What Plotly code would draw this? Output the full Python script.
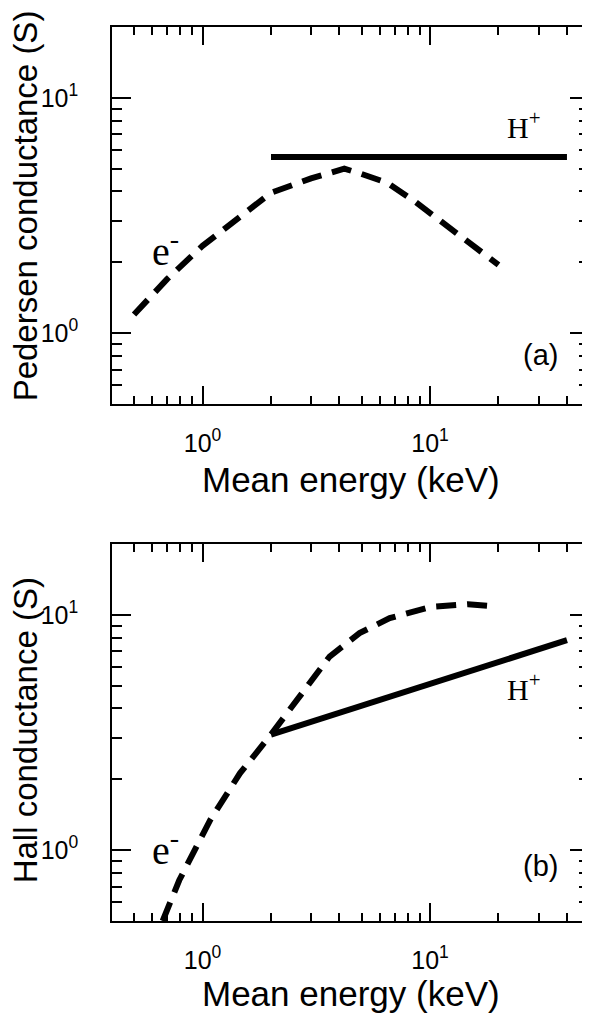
import numpy as np
import plotly.graph_objects as go

# ---- data ----
energy_e_a = [0.5, 0.7, 1.0, 1.4, 2.0, 3.0, 4.2, 5.0, 6.5, 8.5, 12, 15, 20]
pedersen_e = [1.2, 1.7, 2.35, 3.05, 3.95, 4.55, 5.0, 4.75, 4.35, 3.65, 2.85, 2.4, 1.95]
energy_p_a = [2, 40]
pedersen_p = [5.6, 5.6]

energy_e_b = [0.668, 0.79, 1.08, 1.46, 2.0, 2.68, 3.62, 4.9, 6.65, 10.1, 14.7, 19.6]
hall_e = [0.5, 0.745, 1.34, 2.12, 3.1, 4.49, 6.65, 8.36, 9.68, 10.8, 11.1, 10.85]
energy_p_b = [2, 40]
hall_p = [3.1, 7.8]

major_vals = [1, 10]
major_text = ["10<sup>0</sup>", "10<sup>1</sup>"]
x_minor = [0.4, 0.5, 0.6, 0.7, 0.8, 0.9, 2, 3, 4, 5, 6, 7, 8, 9, 20, 30, 40, 50]
y_minor = [0.5, 0.6, 0.7, 0.8, 0.9, 2, 3, 4, 5, 6, 7, 8, 9, 20]

SANS = "Liberation Sans"
SERIF = "Liberation Serif"
DASH = "20px,11px"
LW = 6

W, H = 590, 1013
ML, MR, MT, MB = 104, 7, 19, 100
PH = H - MT - MB

fig = go.Figure()
fig.add_trace(go.Scatter(x=energy_e_a, y=pedersen_e, mode="lines",
                         line=dict(color="black", width=LW, dash=DASH),
                         xaxis="x", yaxis="y", showlegend=False))
fig.add_trace(go.Scatter(x=energy_p_a, y=pedersen_p, mode="lines",
                         line=dict(color="black", width=LW),
                         xaxis="x", yaxis="y", showlegend=False))
fig.add_trace(go.Scatter(x=energy_e_b, y=hall_e, mode="lines",
                         line=dict(color="black", width=LW, dash=DASH),
                         xaxis="x2", yaxis="y2", showlegend=False))
fig.add_trace(go.Scatter(x=energy_p_b, y=hall_p, mode="lines",
                         line=dict(color="black", width=LW),
                         xaxis="x2", yaxis="y2", showlegend=False))

def xax(anchor):
    return dict(type="log", range=[np.log10(0.4), np.log10(50)], anchor=anchor,
                showgrid=False, zeroline=False, showline=True, linecolor="black",
                linewidth=1.5, mirror="ticks", ticks="inside", ticklen=18,
                tickwidth=1.5, tickcolor="black", tickvals=major_vals,
                ticktext=major_text, ticklabelstandoff=16,
                tickfont=dict(family=SANS, size=25, color="black"),
                minor=dict(tickvals=x_minor, ticks="inside", ticklen=8,
                           tickwidth=1.5, tickcolor="black", showgrid=False))

def yax(anchor, domain):
    return dict(type="log", range=[np.log10(0.5), np.log10(20)], anchor=anchor,
                domain=domain, showgrid=False, zeroline=False, showline=True,
                linecolor="black", linewidth=1.5, mirror="ticks", ticks="inside",
                ticklen=19, tickwidth=1.5, tickcolor="black", tickvals=major_vals,
                ticktext=major_text, ticklabelstandoff=27,
                tickfont=dict(family=SANS, size=25, color="black"),
                minor=dict(tickvals=y_minor, ticks="inside", ticklen=10,
                           tickwidth=1.5, tickcolor="black", showgrid=False))

def py(screen_y):
    return (MT + PH - (screen_y - 8)) / PH

def px(screen_x):
    return (screen_x - 8 - ML) / (W - ML - MR)

def ann(x, y, text, xref, yref, font, size, xanchor):
    return dict(x=np.log10(x), y=np.log10(y), xref=xref, yref=yref, text=text,
                showarrow=False, xanchor=xanchor, yanchor="middle",
                font=dict(family=font, size=size, color="black"))

annotations = [
    ann(21.4, 7.7, "H<sup>+</sup>", "x", "y", SERIF, 30, "left"),
    ann(0.586, 2.3, "e<sup>-</sup>", "x", "y", SERIF, 40, "left"),
    ann(37.3, 0.806, "(a)", "x", "y", SANS, 29, "right"),
    ann(21.4, 4.95, "H<sup>+</sup>", "x2", "y2", SERIF, 30, "left"),
    ann(0.586, 1.03, "e<sup>-</sup>", "x2", "y2", SERIF, 40, "left"),
    ann(37.3, 0.857, "(b)", "x2", "y2", SANS, 29, "right"),
    dict(x=px(25), y=py(206), xref="paper", yref="paper", text="Pedersen conductance (S)",
         textangle=-90, showarrow=False, xanchor="center", yanchor="middle",
         font=dict(family=SANS, size=33, color="black")),
    dict(x=px(25), y=py(730), xref="paper", yref="paper", text="Hall conductance (S)",
         textangle=-90, showarrow=False, xanchor="center", yanchor="middle",
         font=dict(family=SANS, size=33, color="black")),
    dict(x=px(352), y=py(479), xref="paper", yref="paper", text="Mean energy (keV)",
         showarrow=False, xanchor="center", yanchor="middle",
         font=dict(family=SANS, size=35, color="black")),
    dict(x=px(352), y=py(994), xref="paper", yref="paper", text="Mean energy (keV)",
         showarrow=False, xanchor="center", yanchor="middle",
         font=dict(family=SANS, size=35, color="black")),
]

fig.update_layout(
    width=W, height=H,
    margin=dict(l=ML, r=MR, t=MT, b=MB),
    paper_bgcolor="white", plot_bgcolor="white",
    xaxis=xax("y"),
    yaxis=yax("x", [py(404), 1.0]),
    xaxis2=xax("y2"),
    yaxis2=yax("x2", [0.0, py(544)]),
    annotations=annotations,
    showlegend=False,
)

fig.write_html("out.html")
